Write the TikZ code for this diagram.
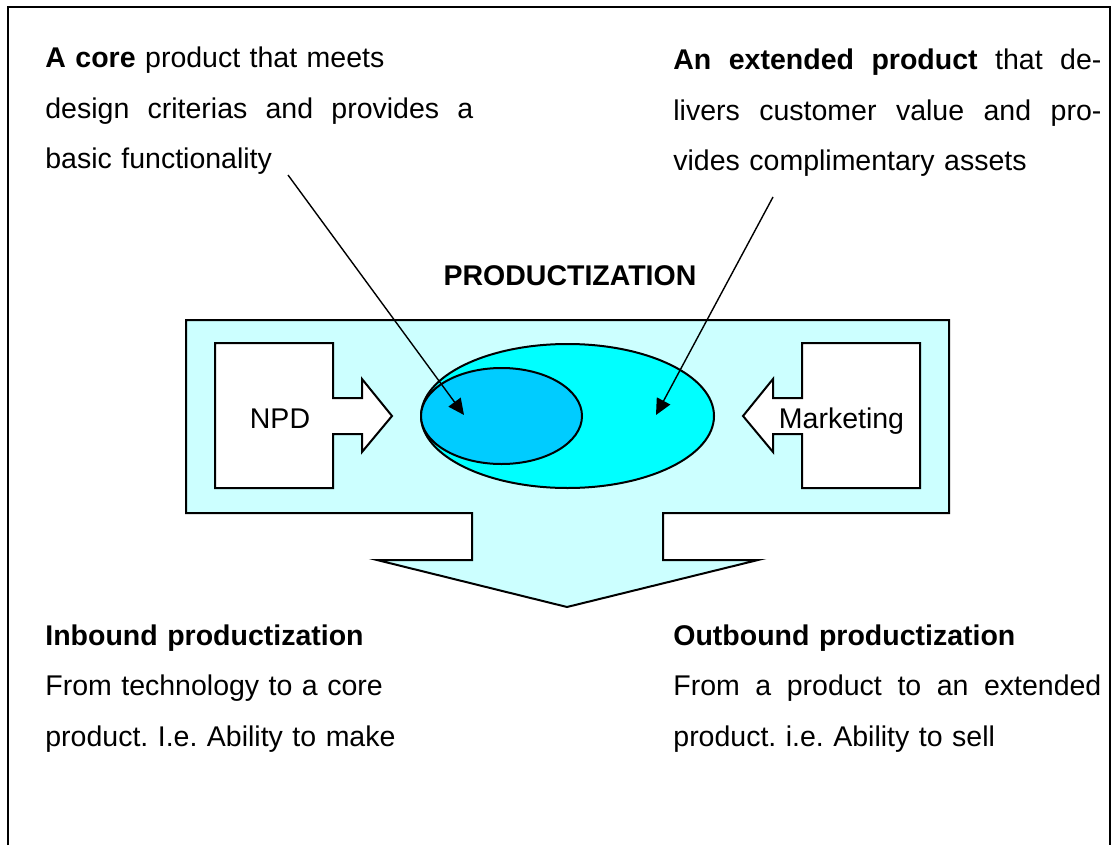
\documentclass[tikz,border=0pt]{standalone}
\usepackage{fontspec}
\setmainfont{Liberation Sans}
\usetikzlibrary{shapes.geometric,arrows.meta}
\definecolor{paleblue}{RGB}{204,255,255}
\definecolor{extcyan}{RGB}{0,255,255}
\definecolor{coreblue}{RGB}{0,204,255}
\newcommand{\fullline}[1]{\makebox[214pt][s]{\spaceskip=0pt\xspaceskip=0pt #1}}
\frenchspacing

\begin{document}
\begin{tikzpicture}[x=0.5pt,y=-0.5pt]

%
% Styles
%
\tikzstyle{outline} = [draw=black,line width=1pt]
\tikzstyle{txt} = [inner sep=0pt,anchor=base west,font=\fontsize{14.25}{25.25}\selectfont]
\tikzstyle{block} = [txt,text width=214pt,align=left]
\tikzstyle{pointer} = [-{Triangle[length=8pt,width=7.5pt]},line width=0.7pt]
\tikzstyle{blob} = [ellipse,outline,inner sep=0pt]

\useasboundingbox (0,0) rectangle (1112,845);
\draw[line width=1pt] (8,845) -- (8,7) -- (1110,7) -- (1110,845);

% big arrow down
\draw[outline,fill=paleblue] (186,320) -- (949,320) -- (949,513) -- (663,513) -- (663,560)
  -- (758,560) -- (567,607) -- (377,560) -- (472,560) -- (472,513) -- (186,513) -- cycle;

% callouts
\draw[outline,fill=white] (215,343) -- (333,343) -- (333,398) -- (362,398) -- (362,379)
  -- (392,416) -- (362,452) -- (362,434) -- (333,434) -- (333,488) -- (215,488) -- cycle;
\draw[outline,fill=white] (920,343) -- (802,343) -- (802,398) -- (773,398) -- (773,379)
  -- (743,416) -- (773,452) -- (773,434) -- (802,434) -- (802,488) -- (920,488) -- cycle;

\node[blob,fill=extcyan,minimum width=146.5pt,minimum height=72pt] (ext) at (567.5,416) {};
\node[blob,fill=coreblue,minimum width=80.5pt,minimum height=48pt] (core) at (501.5,416) {};

\node[txt,anchor=base] (npd) at (280,428) {NPD};
\node[txt,anchor=base] (mkt) at (841.5,428) {Marketing};
\node[txt,anchor=base,font=\fontsize{14.25}{25.25}\selectfont\bfseries] (title) at (570,285) {PRODUCTIZATION};

\node[block] (coretxt) at (45,68) {\textbf{A core} product that meets\\
  \fullline{design criterias and provides a}\\
  basic functionality};
\node[block] (exttxt) at (673,70) {\fullline{\textbf{An extended product} that de-}\\
  \fullline{livers customer value and pro-}\\
  vides complimentary assets};
\node[block] (inbound) at (45,645) {\textbf{Inbound productization}\\
  From technology to a core\\
  product. I.e. Ability to make};
\node[block] (outbound) at (673,645) {\textbf{Outbound productization}\\
  \fullline{From a product to an extended}\\
  product. i.e. Ability to sell};

\coordinate (corefrom) at (288,175);
\coordinate (coreat) at (464,415);
\coordinate (extfrom) at (773,197);
\coordinate (extat) at (656,415);
\draw[pointer] (corefrom) -- (coreat);
\draw[pointer] (extfrom) -- (extat);

\end{tikzpicture}
\end{document}
